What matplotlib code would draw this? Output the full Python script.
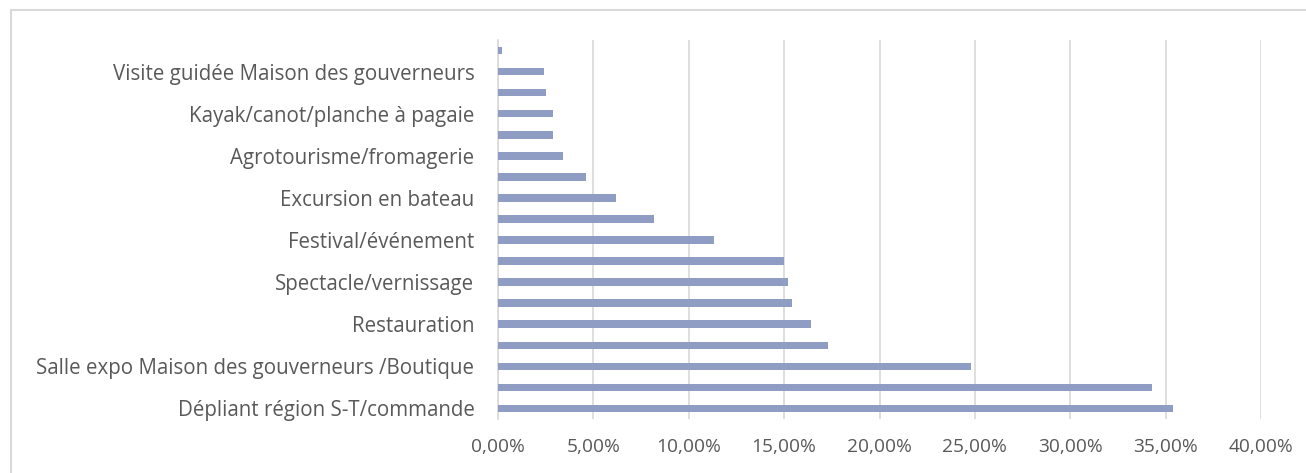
import matplotlib
matplotlib.use("Agg")
import matplotlib.pyplot as plt
from matplotlib.patches import Rectangle
from matplotlib.ticker import FuncFormatter

# Categories from bottom to top (only every other label is displayed in the original)
categories = [
    "Dépliant région S-T/commande", "",
    "Salle expo Maison des gouverneurs /Boutique", "",
    "Restauration", "",
    "Spectacle/vernissage", "",
    "Festival/événement", "",
    "Excursion en bateau", "",
    "Agrotourisme/fromagerie", "",
    "Kayak/canot/planche à pagaie", "",
    "Visite guidée Maison des gouverneurs", "",
]
values = [35.4, 34.3, 24.8, 17.3, 16.4, 15.4, 15.2, 15.0, 11.3, 8.2,
          6.2, 4.6, 3.4, 2.9, 2.9, 2.5, 2.4, 0.2]
xticks = [0, 5, 10, 15, 20, 25, 30, 35, 40]

W, H = 1306, 473
fig = plt.figure(figsize=(W / 100, H / 100), dpi=100)
fig.patch.set_facecolor("white")

# chart border (top-left visible)
fig.add_artist(Rectangle((11 / W, -0.05), 1.1, 1 - 10 / H + 0.05,
                         transform=fig.transFigure, fill=False,
                         edgecolor="#D9D9D9", linewidth=1.5))

ax = fig.add_axes([498 / W, 1 - 419 / H, (1261 - 498) / W, (419 - 40) / H])
pos = list(range(len(values)))
ax.barh(pos, values, height=0.36, color="#8F9DC4", zorder=3)
ax.set_ylim(-0.5, len(values) - 0.5)
ax.set_xlim(0, 40)
ax.set_xticks(xticks)
ax.xaxis.set_major_formatter(FuncFormatter(lambda v, p: f"{v:.2f}%".replace(".", ",")))
ax.set_yticks(pos)
ax.set_yticklabels(categories)
ax.grid(axis="x", color="#D9D9D9", linewidth=1.2, zorder=0)
for s in ["top", "right", "bottom"]:
    ax.spines[s].set_visible(False)
ax.spines["left"].set_color("#D9D9D9")
ax.spines["left"].set_linewidth(1.2)
ax.tick_params(axis="y", length=0, labelsize=14.8, labelcolor="#595959", pad=17)
ax.tick_params(axis="x", length=0, labelsize=13.8, labelcolor="#595959", pad=14)
for lab in ax.get_xticklabels() + ax.get_yticklabels():
    lab.set_family(["Open Sans", "DejaVu Sans"])

fig.savefig("out.png", dpi=100, facecolor="white")
